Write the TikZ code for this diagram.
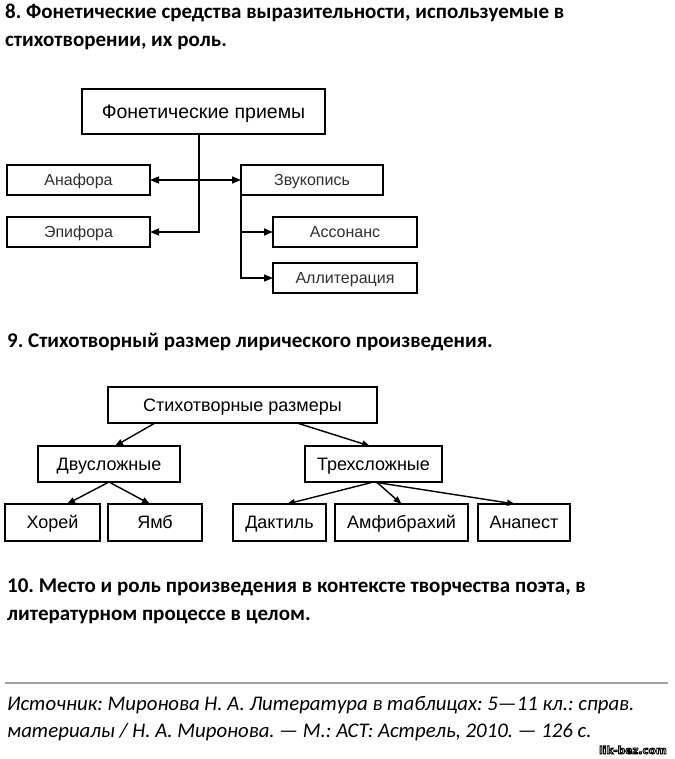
\documentclass[tikz,border=0pt]{standalone}
\usepackage{fontspec}
\setmainfont{Carlito}
\newfontfamily\boxfont{Liberation Sans}
\newfontfamily\markfont{DejaVu Sans}
\usepackage{xcolor}
\definecolor{cLine}{HTML}{000000}
\definecolor{cText}{HTML}{303030}
\definecolor{cRule}{HTML}{A3A3A3}
\usetikzlibrary{positioning,arrows.meta}
\tikzset{
  node-box/.style={draw=cLine,line width=1.6pt,outer sep=0pt,inner sep=0pt,
    minimum height=30pt,minimum width=143pt,align=center,text=cText,
    text height=11.5pt,text depth=0pt,
    font=\boxfont\fontsize{16}{18}\selectfont},
  node-title/.style={node-box,text=black,text height=14pt,
    font=\boxfont\fontsize{19.5}{22}\selectfont},
  node-size/.style={draw=cLine,line width=1.5pt,outer sep=0pt,inner sep=0pt,
    minimum height=36pt,align=center,text height=12.9pt,text depth=0pt,
    font=\boxfont\fontsize{18}{20}\selectfont},
  heading/.style={align=left,inner sep=0pt,
    font=\bfseries\fontsize{21}{28}\selectfont},
  source/.style={align=left,inner sep=0pt,
    font=\itshape\fontsize{20.8}{27}\selectfont},
  arrow/.style={-{Triangle[length=9pt,width=7pt]},line width=1.6pt,draw=cLine},
  arrow-both/.style={{Triangle[length=9pt,width=7pt]}-{Triangle[length=9pt,width=7pt]},
    line width=1.6pt,draw=cLine},
  arrow-size/.style={-{Triangle[length=8pt,width=6pt]},line width=1.4pt,draw=cLine},
}
% outlined watermark letters (fill white, stroke black)
\newcommand{\wmark}[1]{%
  \special{pdf:literal direct 2 Tr 0.9 w 0 G 1 g}#1%
  \special{pdf:literal direct 0 Tr 0 g}}
\frenchspacing

\begin{document}
\begin{tikzpicture}[x=1pt,y=-1pt]
  \useasboundingbox[fill=white] (0,0) rectangle (674,759);

  % 8
  \node[heading,anchor=north west] (head-phon) at (5,4)
    {8. Фонетические средства выразительности, используемые в\\стихотворении, их роль.};

  \node[node-title,minimum width=243pt,minimum height=45pt] (phon) at (203.5,111.5) {Фонетические приемы};
  \node[node-box] (anaphora) at (78.5,180) {Анафора};
  \node[node-box,below=22pt of anaphora] (epiphora) {Эпифора};
  \node[node-box,minimum width=142pt] (sound) at (312,180) {Звукопись};
  \node[node-box,minimum width=144pt] (assonance) at (345,232) {Ассонанс};
  \node[node-box,minimum width=144pt,below=16pt of assonance] (alliter) {Аллитерация};

  \draw[arrow] ([xshift=-4.5pt]phon.south) |- (epiphora);
  \draw[arrow-both] (anaphora) -- (sound);
  \draw[arrow] (sound.south west) |- (assonance);
  \draw[arrow] (sound.south west) |- (alliter);

  % 9
  \node[heading,anchor=north west] (head-meter) at (7,333)
    {9. Стихотворный размер лирического произведения.};

  \node[node-size,minimum width=269pt] (meter) at (242.5,405) {Стихотворные размеры};
  \node[node-size,minimum width=142pt] (two) at (109,464) {Двусложные};
  \node[node-size,minimum width=137pt] (three) at (373.5,464) {Трехсложные};
  \node[node-size,minimum width=95pt,minimum height=37pt] (choree) at (52.5,522.5) {Хорей};
  \node[node-size,minimum width=94pt,minimum height=37pt,right=8pt of choree] (iamb) {Ямб};
  \node[node-size,minimum width=93pt,minimum height=37pt] (dactyl) at (279.5,522.5) {Дактиль};
  \node[node-size,minimum width=133pt,minimum height=37pt,right=9pt of dactyl] (amphi) {Амфибрахий};
  \node[node-size,minimum width=92pt,minimum height=37pt,right=10pt of amphi] (anapest) {Анапест};

  \draw[arrow-size] ([xshift=-87.5pt]meter.south) -- ([xshift=6pt]two.north);
  \draw[arrow-size] ([xshift=54.5pt]meter.south) -- ([xshift=-3.5pt]three.north);
  \draw[arrow-size] (two.south) -- ([xshift=14.5pt]choree.north);
  \draw[arrow-size] (two.south) -- ([xshift=-5pt]iamb.north);
  \draw[arrow-size] (three.south) -- ([xshift=7.5pt]dactyl.north);
  \draw[arrow-size] ([xshift=3pt]three.south) -- (amphi.north);
  \draw[arrow-size] (three.south) -- ([xshift=-9pt]anapest.north);

  % 10
  \node[heading,anchor=north west] (head-place) at (7,579)
    {10. Место и роль произведения в контексте творчества поэта, в\\литературном процессе в целом.};

  % source
  \draw[cRule,line width=2.5pt] (5,683) coordinate (rule-l) -- (668,683) coordinate (rule-r);
  \node[source,anchor=north west] (src) at (7,696)
    {Источник: Миронова Н. А. Литература в таблицах: 5—11 кл.: справ.\\материалы / Н. А. Миронова. — М.: АСТ: Астрель, 2010. — 126 с.};
  \node[inner sep=0pt,font=\markfont\bfseries\fontsize{10.5}{12}\selectfont] (wm) at (633,750) {\wmark{lik-bez.com}};
\end{tikzpicture}
\end{document}
